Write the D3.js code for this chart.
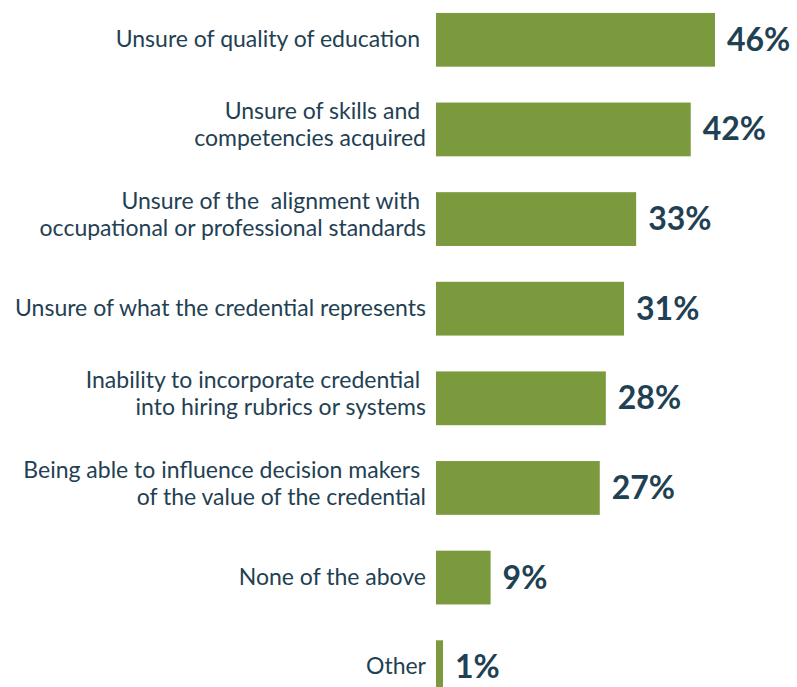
<!DOCTYPE html>
<html>
<head>
<meta charset="utf-8">
<script src="https://cdn.jsdelivr.net/npm/d3@7"></script>
<style>
  body { margin: 0; background: #fff; }
  text { font-family: Lato, sans-serif; }
</style>
</head>
<body>
<div id="container"></div>
<script>
// Chart data, top to bottom
const labels = [
  ["Unsure of quality of education "],
  ["Unsure of skills and ", "competencies acquired"],
  ["Unsure of the  alignment with ", "occupational or professional standards"],
  ["Unsure of what the credential represents"],
  ["Inability to incorporate credential ", "into hiring rubrics or systems"],
  ["Being able to influence decision makers ", "of the value of the credential"],
  ["None of the above"],
  ["Other"]
];
const values = [46, 42, 33, 31, 28, 27, 9, 1];

const width = 797;
const height = 687;
const barColor = "#7a9a3d";
const textColor = "#1f4153";

const svg = d3.create("svg")
  .attr("width", width)
  .attr("height", height);
container.append(svg.node());

const idx = [...values.keys()];

// band scale for rows
const y = d3.scaleBand()
  .domain(idx)
  .range([-5, 712])
  .paddingInner(0.4)
  .paddingOuter(0.2);

// linear scale for bar lengths
const x = d3.scaleLinear()
  .domain([0, 46])
  .range([436, 715]);

// tiny values still get a visible sliver
const barW = d => Math.max(x(d) - x(0), 7);

svg.selectAll(".bar")
  .data(values)
  .join("rect")
  .attr("class", "bar")
  .attr("x", x(0))
  .attr("y", (d, i) => y(i))
  .attr("width", barW)
  .attr("height", y.bandwidth())
  .attr("fill", barColor);

// value labels
svg.selectAll(".val")
  .data(values)
  .join("text")
  .attr("class", "val")
  .attr("x", d => x(0) + barW(d) + 12)
  .attr("y", (d, i) => y(i) + y.bandwidth() / 2 + 11)
  .attr("fill", textColor)
  .attr("font-weight", "bold")
  .attr("font-size", 32)
  .text(d => d + "%");

// category labels, one or two lines
const lab = svg.selectAll(".lab")
  .data(labels)
  .join("text")
  .attr("class", "lab")
  .attr("text-anchor", "end")
  .attr("fill", textColor)
  .attr("font-size", 23)
  .style("white-space", "pre");

lab.each(function (lines, i) {
  const cy = y(i) + y.bandwidth() / 2;
  const offs = lines.length === 1 ? [7] : [-10, 17];
  d3.select(this).selectAll("tspan")
    .data(lines)
    .join("tspan")
    .attr("x", 426)
    .attr("y", (d, j) => cy + offs[j])
    .text(d => d);
});
</script>
</body>
</html>
